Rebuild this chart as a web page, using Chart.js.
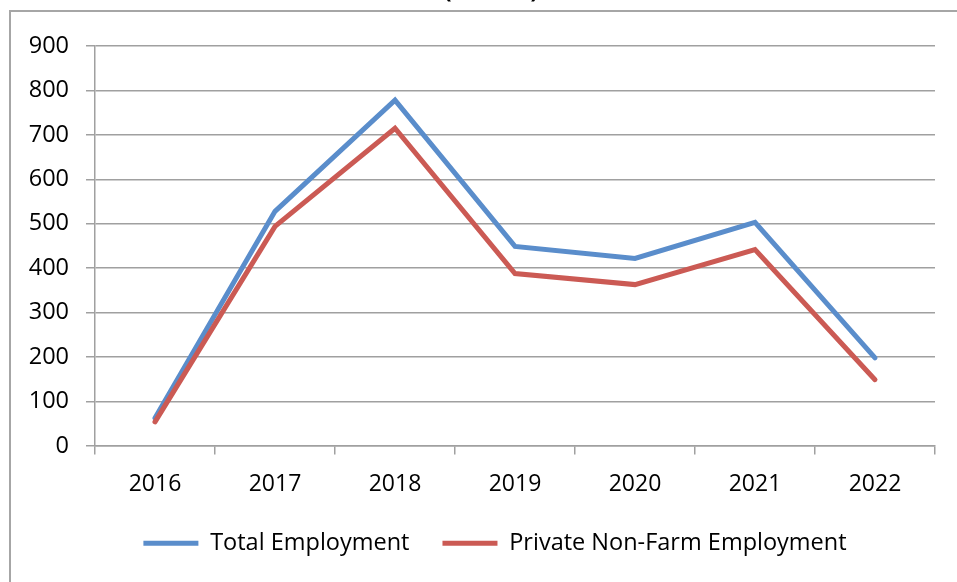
<!DOCTYPE html>
<html>
<head>
<meta charset="utf-8">
<script src="https://cdn.jsdelivr.net/npm/chart.js@4/dist/chart.umd.min.js"></script>
<style>
  html, body { margin: 0; padding: 0; background: #fff; overflow: hidden; }
  #wrap { width: 957px; height: 582px; }
</style>
</head>
<body>
<div id="wrap"><canvas id="employmentChart"></canvas></div>
<script>
// Data for the chart (thousands of jobs)
const years = ['2016', '2017', '2018', '2019', '2020', '2021', '2022'];
const totalEmployment = [63, 528, 778, 449, 422, 503, 198];
const privateNonFarm = [54, 494, 715, 388, 363, 442, 149];
const yTicks = [0, 100, 200, 300, 400, 500, 600, 700, 800, 900];

const gridGray = '#a0a0a0';
const blue = '#5a8dcb';
const red = '#cb5a54';

Chart.defaults.font.family = "'Open Sans', 'Liberation Sans', sans-serif";
Chart.defaults.font.size = 23;
Chart.defaults.color = '#000';

// Outer frame and the title line that sits above the frame
const chartFrame = {
    id: 'chartFrame',
    afterLayout(chart) {
        // let the y tick labels run past the fixed axis width without clipping
        chart.scales.y.left = 0;
    },
    beforeDraw(chart) {
        const ctx = chart.ctx;
        ctx.save();
        ctx.strokeStyle = '#a6a6a6';
        ctx.lineWidth = 2;
        ctx.beginPath();
        ctx.moveTo(10, chart.height + 5);
        ctx.lineTo(10, 11);
        ctx.lineTo(chart.width + 5, 11);
        ctx.stroke();

        ctx.fillStyle = '#000';
        ctx.font = "bold 23px 'Open Sans', sans-serif";
        ctx.textAlign = 'center';
        ctx.textBaseline = 'alphabetic';
        ctx.fillText('(in 000s)', 491, -2);
        ctx.restore();
    }
};

const ctx = document.getElementById('employmentChart').getContext('2d');
const lineChart = new Chart(ctx, {
    type: 'line',
    data: {
        labels: years,
        datasets: [{
            label: 'Total Employment',
            data: totalEmployment,
            borderColor: blue,
            backgroundColor: blue,
            borderWidth: 5,
            borderCapStyle: 'round',
            borderJoinStyle: 'miter',
            pointRadius: 0,
            fill: false,
            order: 2
        }, {
            label: 'Private Non-Farm Employment',
            data: privateNonFarm,
            borderColor: red,
            backgroundColor: red,
            borderWidth: 5,
            borderCapStyle: 'round',
            borderJoinStyle: 'miter',
            pointRadius: 0,
            fill: false,
            order: 1
        }]
    },
    options: {
        responsive: true,
        maintainAspectRatio: false,
        animation: false,
        layout: {
            padding: { left: 55, right: 22, top: 46, bottom: 17 }
        },
        plugins: {
            legend: {
                position: 'bottom',
                labels: {
                    usePointStyle: true,
                    pointStyle: 'line',
                    pointStyleWidth: 55,
                    padding: 33,
                    font: { size: 23.5 },
                    sort: (a, b) => a.datasetIndex - b.datasetIndex
                }
            },
            tooltip: { enabled: false }
        },
        scales: {
            x: {
                offset: true,
                grid: {
                    offset: true,
                    drawOnChartArea: false,
                    drawTicks: true,
                    tickLength: 25,
                    tickBorderDash: [8, 40],
                    color: gridGray,
                    lineWidth: 1.5
                },
                border: { color: gridGray, width: 1.5 },
                ticks: { padding: 0, font: { size: 23 } }
            },
            y: {
                min: 0,
                max: 900,
                afterFit(scale) { scale.width = 40; },
                afterBuildTicks(scale) {
                    scale.ticks = yTicks.map(v => ({ value: v }));
                },
                grid: {
                    color: gridGray,
                    lineWidth: 1.5,
                    drawTicks: true,
                    tickLength: 9
                },
                border: { color: gridGray, width: 1.5 },
                ticks: { padding: 17, font: { size: 23.5 } }
            }
        }
    },
    plugins: [chartFrame]
});
</script>
</body>
</html>
